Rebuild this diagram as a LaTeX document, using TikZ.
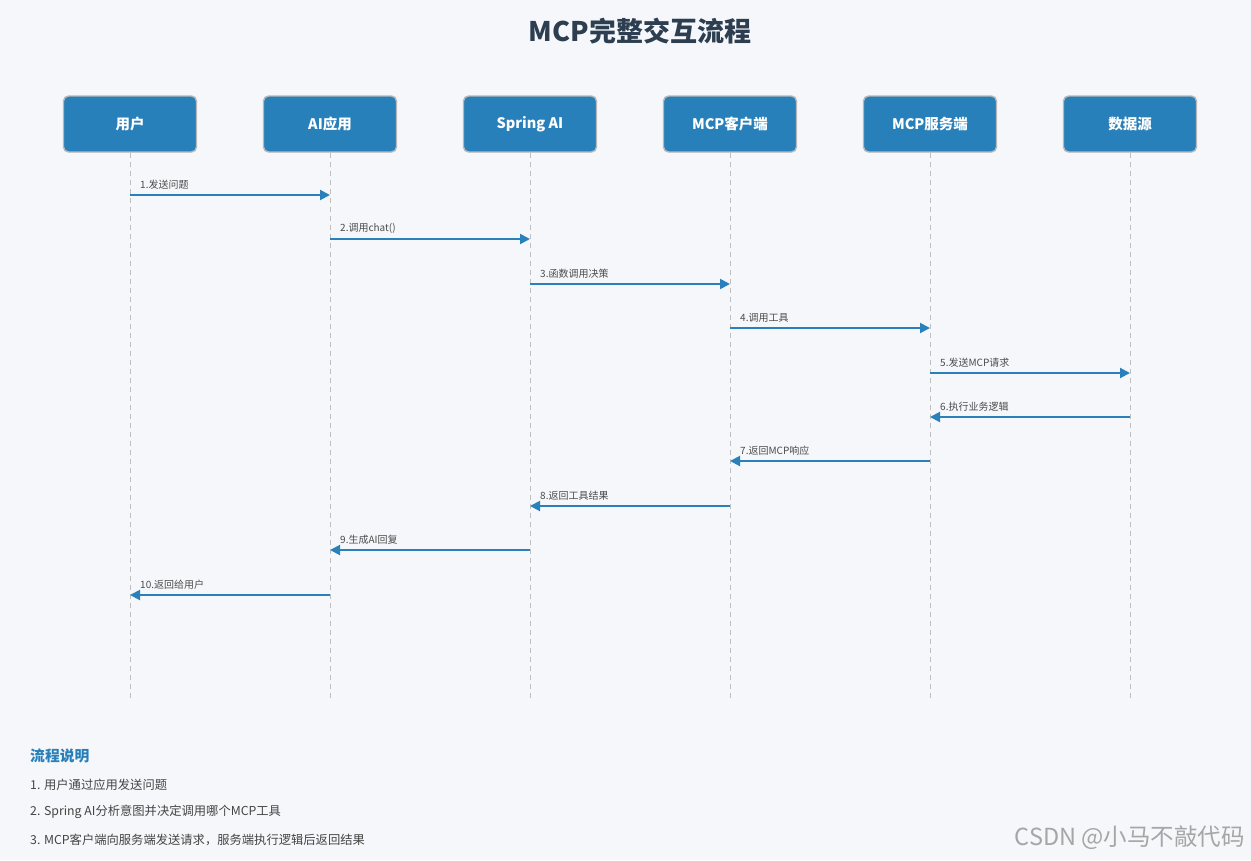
\documentclass[tikz,border=0pt]{standalone}
\usepackage{fontspec}
\setmainfont{Noto Sans CJK SC}
\usetikzlibrary{arrows.meta}
\definecolor{bg}{HTML}{F5F7FA}
\definecolor{boxblue}{HTML}{2880BA}
\definecolor{title}{HTML}{2C3E50}
\definecolor{arrowc}{HTML}{2A80BA}
\definecolor{txt}{HTML}{444444}
\tikzset{
  actor/.style={draw=black!28, line width=1.4pt, fill=boxblue, rounded corners=5pt, minimum width=133pt, minimum height=56pt, text=white, font=\bfseries\fontsize{14.5}{16}\selectfont},
  life/.style={draw=black!25, dashed, dash pattern=on 5pt off 4pt, line width=0.7pt},
  msg/.style={draw=arrowc, line width=2pt, -{Triangle[length=10pt,width=10pt]}},
  lbl/.style={font=\fontsize{10}{11}\selectfont, text=black!70, anchor=south west, inner sep=0pt},
  note/.style={anchor=west, inner sep=0pt, font=\fontsize{12.3}{14}\selectfont, text=txt},
}
\begin{document}
\begin{tikzpicture}[x=1pt,y=-1pt]
\fill[bg] (0,0) rectangle (1251,860);
\useasboundingbox (0,0) rectangle (1251,860);
\node[font=\bfseries\fontsize{27}{31}\selectfont, text=title] (t) at (640,31) {MCP完整交互流程};
\foreach \n/\x/\t in {u/130/用户, a/330/AI应用, s/530/Spring AI, c/730/MCP客户端, v/930/MCP服务端, d/1130/数据源}{
  \node[actor] (\n) at (\x,124) {\t};
  \coordinate (\n end) at (\x,700);
  \draw[life] (\n.south) -- (\n end);
}
\foreach \f/\g/\y/\t [count=\i] in {u/a/195/发送问题, a/s/239/调用chat(), s/c/284/函数调用决策, c/v/328/调用工具, v/d/373/发送MCP请求}{
  \coordinate (p\i) at (\f|-0,\y);
  \coordinate (q\i) at (\g|-0,\y);
  \draw[msg] (p\i) -- (q\i);
  \node[lbl] (l\i) at ([xshift=10pt,yshift=5pt]p\i) {\i.\t};
}
\foreach \f/\g/\y/\t/\i in {d/v/417/执行业务逻辑/6, v/c/461/返回MCP响应/7, c/s/506/返回工具结果/8, s/a/550/生成AI回复/9, a/u/595/返回给用户/10}{
  \coordinate (p\i) at (\f|-0,\y);
  \coordinate (q\i) at (\g|-0,\y);
  \draw[msg] (p\i) -- (q\i);
  \node[lbl] (l\i) at ([xshift=10pt,yshift=5pt]q\i) {\i.\t};
}
\node[anchor=west, inner sep=0pt, font=\bfseries\fontsize{14.8}{17}\selectfont, text=boxblue] (h) at (30,756) {流程说明};
\node[note] (n1) at (30,785) {1. 用户通过应用发送问题};
\node[note] (n2) at (30,812) {2. Spring AI分析意图并决定调用哪个MCP工具};
\node[note] (n3) at (30,840) {3. MCP客户端向服务端发送请求，服务端执行逻辑后返回结果};
\node[anchor=east, inner sep=0pt, font=\fontsize{23.5}{26}\selectfont, text=black!35] (w) at (1245,838) {CSDN @小马不敲代码};
\end{tikzpicture}
\end{document}
